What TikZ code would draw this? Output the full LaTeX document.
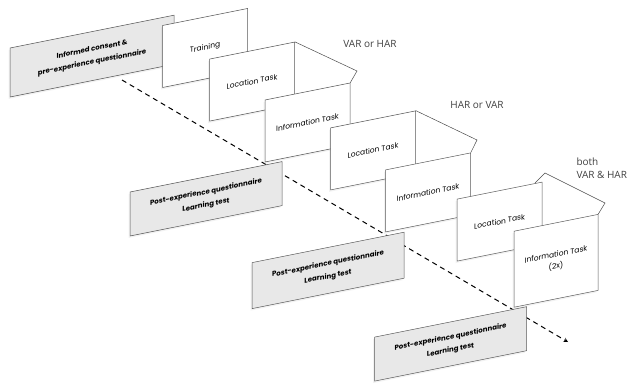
\documentclass[tikz,border=0pt]{standalone}
\usepackage{fontspec}
\newfontfamily\cardfont{Poppins}
\newfontfamily\notefont{Open Sans}
\usetikzlibrary{shadows}
\tikzset{
  card/.style={draw=black!65, line width=.5pt, fill=white, transform shape, align=center, inner sep=1pt,
    drop shadow={opacity=.1, shadow xshift=-1.5pt, shadow yshift=-2pt},
    font=\cardfont\fontsize{7.5}{12}\selectfont},
  taskcard/.style={card, minimum width=85pt, minimum height=62pt},
  quizcard/.style={card, fill=black!9, minimum width=152pt, minimum height=45pt,
    font=\cardfont\bfseries\fontsize{7}{13}\selectfont},
  note/.style={font=\notefont\fontsize{10}{13}\selectfont, text=black!75, align=left},
  flap/.style={draw=black!70, line width=.5pt},
  flow/.style={->, line width=1pt, dash pattern=on 5pt off 4pt}
}
\begin{document}
\begin{tikzpicture}[>=stealth, x=1pt, y=-1pt]
\useasboundingbox (0,0) rectangle (631,388);
\coordinate (start) at (122,80);
\coordinate (end) at (568,342);
\draw[flow] (start) -- (end);

\begin{scope}[yslant=.2]
\node[quizcard, minimum width=164pt, minimum height=49pt] (consent) at (92,74.5) {Informed consent \&\\pre-experience questionnaire};
\node[taskcard] (training) at (205,89) {Training};
\node[taskcard] (loc1) at (252,132) {Location Task};
\node[taskcard] (info1) at (307.5,184) {Information Task};
\node[quizcard, minimum height=44pt] (post1) at (206,240) {Post-experience questionnaire\\Learning test};
\node[taskcard] (loc2) at (373,225) {Location Task};
\node[taskcard] (info2) at (428,278) {Information Task};
\node[quizcard, minimum height=46pt] (post2) at (328,336) {Post-experience questionnaire\\Learning test};
\node[taskcard] (loc3) at (499.5,321.5) {Location Task};
\node[taskcard, minimum width=84pt, minimum height=76pt] (info3) at (556,372) {Information Task\\(2x)};
\node[quizcard, minimum height=44pt] (post3) at (450.5,434) {Post-experience questionnaire\\Learning test};
\end{scope}

\coordinate (tip1) at (357,71);
\coordinate (tip2) at (477,140);
\coordinate (fold3) at (535,183);
\coordinate (tip3a) at (545,173);
\coordinate (tip3b) at (605,203);
\draw[flap] (loc1.north east) -- (tip1) -- (info1.north east);
\draw[flap] (loc2.north east) -- (tip2) -- (info2.north east);
\draw[flap] (fold3) -- (tip3a) -- (tip3b) -- (info3.north east);

\node[note] (cond1) at (370,44) {VAR or HAR};
\node[note] (cond2) at (477,105) {HAR or VAR};
\node[note, anchor=west] (cond3) at (573,168) {both\\VAR \& HAR};
\end{tikzpicture}
\end{document}
